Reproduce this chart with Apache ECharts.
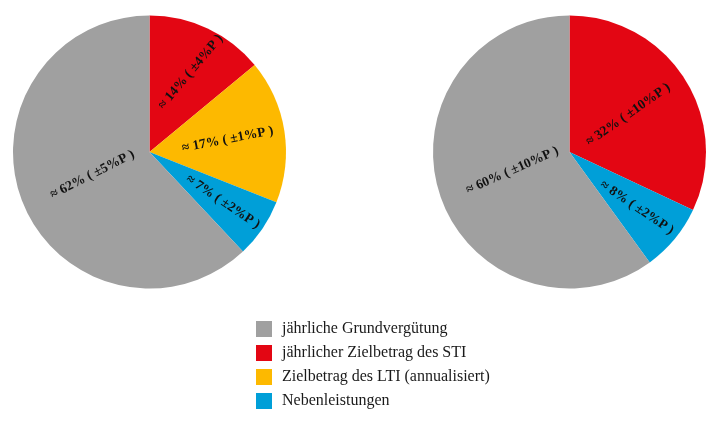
<!DOCTYPE html>
<html>
<head>
<meta charset="utf-8">
<script src="https://cdn.jsdelivr.net/npm/echarts@6/dist/echarts.min.js"></script>
<style>html,body{margin:0;padding:0;background:#fff}#c{width:720px;height:422px}</style>
</head>
<body>
<div id="c"></div>
<script>
// ---- data ----
const categories = ['jährliche Grundvergütung', 'jährlicher Zielbetrag des STI', 'Zielbetrag des LTI (annualisiert)', 'Nebenleistungen'];
const leftNames  = ['jährlicher Zielbetrag des STI', 'Zielbetrag des LTI (annualisiert)', 'Nebenleistungen', 'jährliche Grundvergütung'];
const leftValues = [14, 17, 7, 62];
const leftLabels = ['≈ 14% ( ±4%P )', '≈ 17% ( ±1%P )', '≈ 7% ( ±2%P )', '≈ 62% ( ±5%P )'];
const rightNames  = ['jährlicher Zielbetrag des STI', 'Nebenleistungen', 'jährliche Grundvergütung'];
const rightValues = [32, 8, 60];
const rightLabels = ['≈ 32% ( ±10%P )', '≈ 8% ( ±2%P )', '≈ 60% ( ±10%P )'];

// ---- styles ----
const colorMap = {
  'jährliche Grundvergütung': '#A0A0A0',
  'jährlicher Zielbetrag des STI': '#E30613',
  'Zielbetrag des LTI (annualisiert)': '#FDB900',
  'Nebenleistungen': '#009FD8'
};
const R = 136.5;
const centers = [[149.5, 152], [569.5, 152]];
const leftLabelFrac = [0.66, 0.58, 0.65, 0.45];
const rightLabelFrac = [0.51, 0.64, 0.44];
const leftLabelRot = [50, 11, -34, 27];
const rightLabelRot = [35, -34, 24];

function buildSeries(names, values, labels, center, fracs, rots) {
  const total = values.reduce((a, b) => a + b, 0);
  const mids = [];
  let acc = 0;
  values.forEach(v => { mids.push(90 - (acc + v / 2) / total * 360); acc += v; });
  return {
    type: 'pie',
    center: center,
    radius: [0, R],
    startAngle: 90,
    clockwise: true,
    animation: false,
    silent: true,
    data: names.map((n, i) => ({
      name: n, value: values[i],
      itemStyle: { color: colorMap[n] },
      label: { formatter: labels[i] }
    })),
    label: {
      show: true, position: 'inside', rotate: 'radial',
      color: '#111', fontFamily: 'Liberation Serif', fontWeight: 'bold', fontSize: 13.5
    },
    labelLine: { show: false },
    labelLayout: function (p) {
      const a = (mids[p.dataIndex] - (p.dataIndex === 0 && names.length === 4 ? 2 : 0)) * Math.PI / 180;
      const d = fracs[p.dataIndex] * R;
      return {
        x: center[0] + Math.cos(a) * d,
        y: center[1] - Math.sin(a) * d,
        rotate: rots[p.dataIndex],
        align: 'center', verticalAlign: 'middle'
      };
    }
  };
}

const chart = echarts.init(document.getElementById('c'), null, { renderer: 'canvas' });
chart.setOption({
  backgroundColor: '#fff',
  legend: {
    orient: 'vertical', left: 251, top: 316,
    itemWidth: 16, itemHeight: 16, itemGap: 8,
    icon: 'rect',
    data: categories.map(n => ({ name: n, itemStyle: { color: colorMap[n] } })),
    textStyle: { fontFamily: 'Liberation Serif', fontSize: 16, color: '#1a1a1a', padding: [0, 0, 0, 5] }
  },
  series: [
    buildSeries(leftNames, leftValues, leftLabels, centers[0], leftLabelFrac, leftLabelRot),
    buildSeries(rightNames, rightValues, rightLabels, centers[1], rightLabelFrac, rightLabelRot)
  ]
});
</script>
</body>
</html>
